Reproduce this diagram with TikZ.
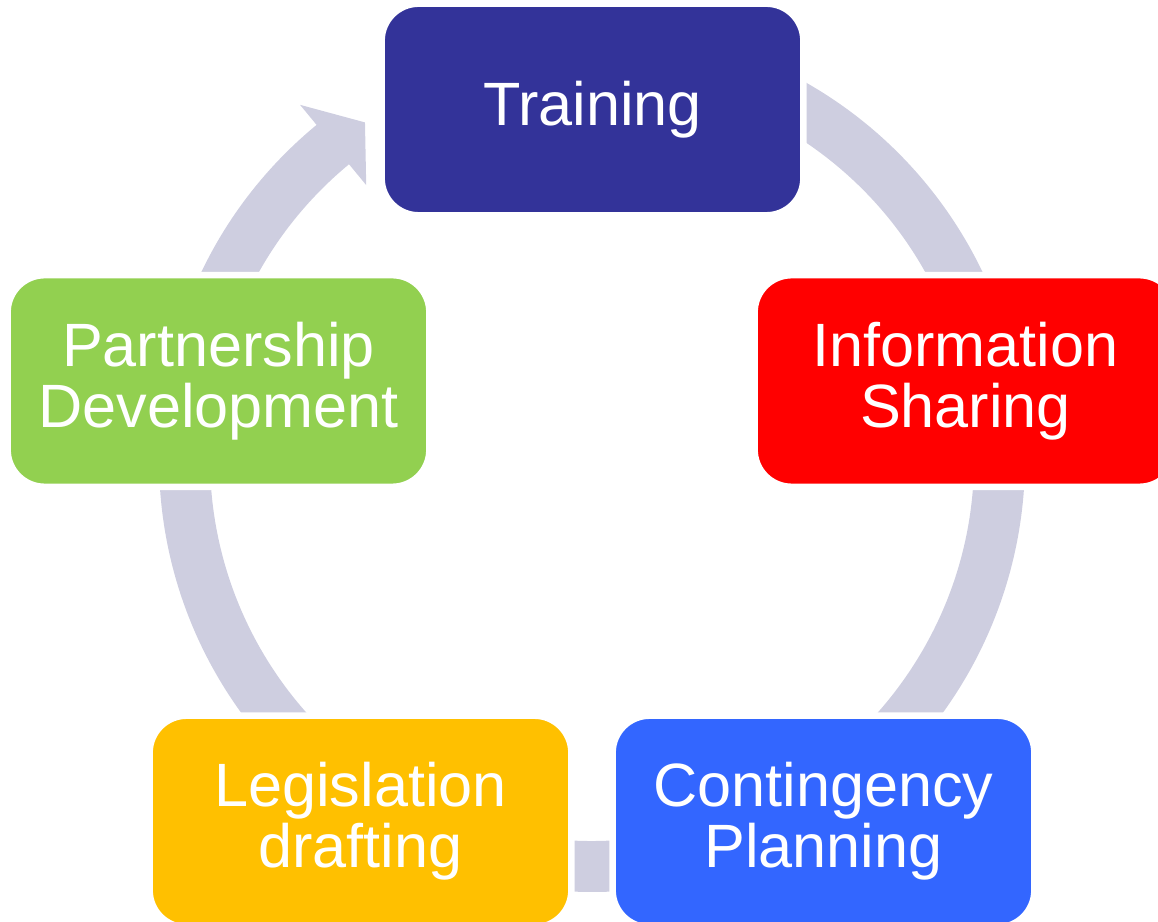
\documentclass[tikz,border=0pt]{standalone}
\usepackage{fontspec}
\setmainfont{Liberation Sans}
\usetikzlibrary{positioning}
\definecolor{ringgray}{RGB}{206,206,224}
\definecolor{trainblue}{RGB}{51,51,153}
\definecolor{planblue}{RGB}{51,102,255}
\definecolor{draftgold}{RGB}{255,192,0}
\definecolor{partgreen}{RGB}{146,208,80}

\begin{document}
\begin{tikzpicture}[x=0.01cm,y=0.01cm,
 stage/.style={rounded corners=0.37cm,draw=white,line width=0.065cm,minimum width=4.215cm,minimum height=2.115cm,inner sep=0pt,align=center,text=white,font=\fontsize{17.4}{17.3}\selectfont}]
 \useasboundingbox (0,0) rectangle (1158,921);
 \fill[ringgray,shift={(592,462)}] (129.5:433) arc[start angle=129.5,end angle=420.54,radius=433] -- (416.11:382) arc[start angle=416.11,end angle=129.5,radius=382] -- (129.5:355) -- (124:406) -- (129.5:459) -- cycle;
 \node[stage,fill=trainblue] (training) at (592.5,811.5) {Training};
 \node[stage,fill=red] (info) at (965.5,540) {Information\\Sharing};
 \node[stage,fill=planblue] (contingency) at (823.5,99.5) {Contingency\\Planning};
 \node[stage,fill=draftgold] (legislation) at (360.5,99.5) {Legislation\\drafting};
 \node[stage,fill=partgreen] (partnership) at (218.5,540) {Partnership\\Development};
\end{tikzpicture}
\end{document}
